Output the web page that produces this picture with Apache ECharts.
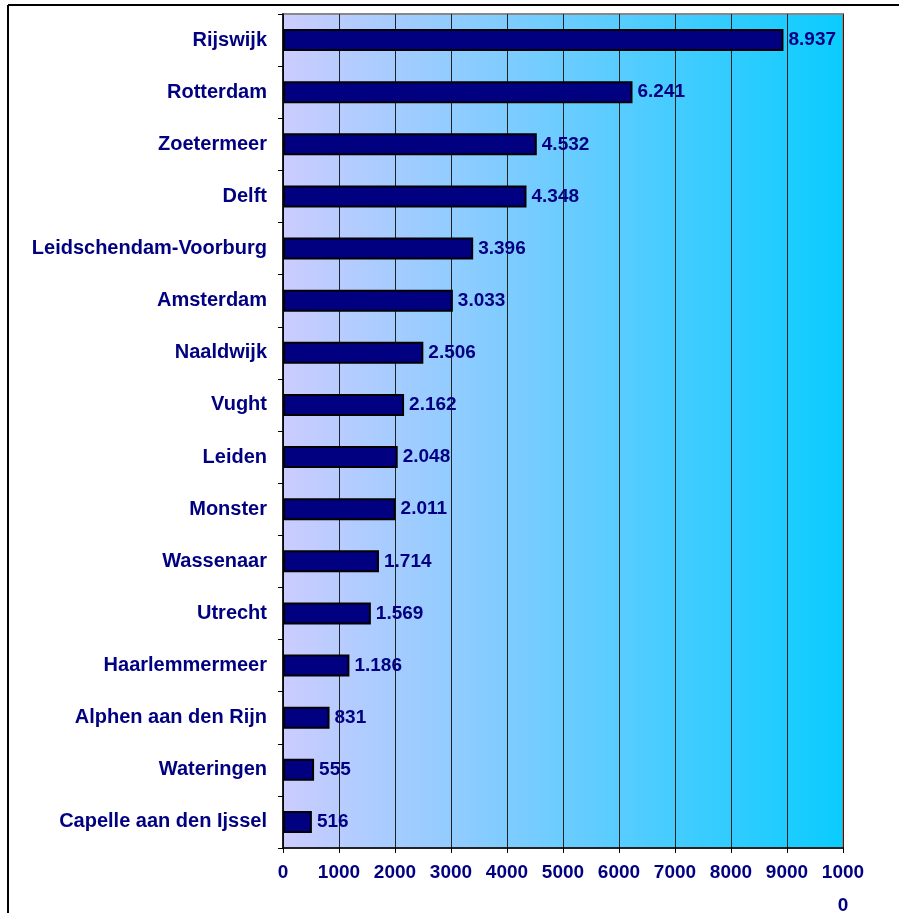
<!DOCTYPE html>
<html>
<head>
<meta charset="utf-8">
<script src="https://cdn.jsdelivr.net/npm/echarts@6/dist/echarts.min.js"></script>
<style>
  html, body { margin: 0; padding: 0; background: #fff; }
  #chart { width: 899px; height: 913px; }
</style>
</head>
<body>
<div id="chart"></div>
<script>
const cities = ['Rijswijk', 'Rotterdam', 'Zoetermeer', 'Delft', 'Leidschendam-Voorburg',
  'Amsterdam', 'Naaldwijk', 'Vught', 'Leiden', 'Monster', 'Wassenaar', 'Utrecht',
  'Haarlemmermeer', 'Alphen aan den Rijn', 'Wateringen', 'Capelle aan den Ijssel']
const counts = [8937, 6241, 4532, 4348, 3396, 3033, 2506, 2162, 2048, 2011, 1714, 1569, 1186, 831, 555, 516]

const navy = '#000080'
// dutch thousands separator
const fmt = v => String(v).replace(/\B(?=(\d{3})+(?!\d))/g, '.')

const chart = echarts.init(document.getElementById('chart'))
chart.setOption({
  animation: false,
  textStyle: { fontFamily: 'Liberation Sans, Arial, sans-serif' },
  graphic: [
    { type: 'line', shape: { x1: 8, y1: 5, x2: 899, y2: 5 }, style: { stroke: '#000', lineWidth: 2 } },
    { type: 'line', shape: { x1: 8, y1: 5, x2: 8, y2: 913 }, style: { stroke: '#000', lineWidth: 2 } }
  ],
  grid: {
    left: 283,
    right: 56,
    top: 14,
    bottom: 65,
    outerBoundsMode: 'none',
    containLabel: false,
    show: true,
    borderColor: '#888',
    borderWidth: 2,
    backgroundColor: {
      type: 'linear', x: 0, y: 0, x2: 1, y2: 0,
      colorStops: [
        { offset: 0, color: '#ccccff' },
        { offset: 1, color: '#0accff' }
      ]
    }
  },
  xAxis: {
    type: 'value',
    min: 0,
    max: 10000,
    interval: 1000,
    axisLine: { show: true, lineStyle: { color: '#000', width: 1.5 } },
    axisTick: { show: true, length: 5, lineStyle: { color: '#000' } },
    splitLine: { show: true, lineStyle: { color: '#222', width: 1 } },
    axisLabel: {
      color: navy,
      fontWeight: 'bold',
      fontSize: 19,
      margin: 8,
      lineHeight: 33,
      formatter: v => v === 10000 ? '1000\n0' : String(v),
      verticalAlign: 'top'
    }
  },
  yAxis: {
    type: 'category',
    data: cities,
    inverse: true,
    axisLine: { show: true, lineStyle: { color: '#000', width: 1.5 } },
    axisTick: { show: true, length: 5, lineStyle: { color: '#000' } },
    axisLabel: { color: navy, fontWeight: 'bold', fontSize: 20, margin: 16 }
  },
  series: [{
    type: 'bar',
    data: counts,
    barWidth: 22,
    itemStyle: { color: navy, borderColor: '#000', borderWidth: 2 },
    label: {
      show: true,
      position: 'right',
      distance: 5,
      color: navy,
      fontWeight: 'bold',
      fontSize: 19,
      formatter: p => fmt(p.value)
    }
  }]
})
</script>
</body>
</html>
